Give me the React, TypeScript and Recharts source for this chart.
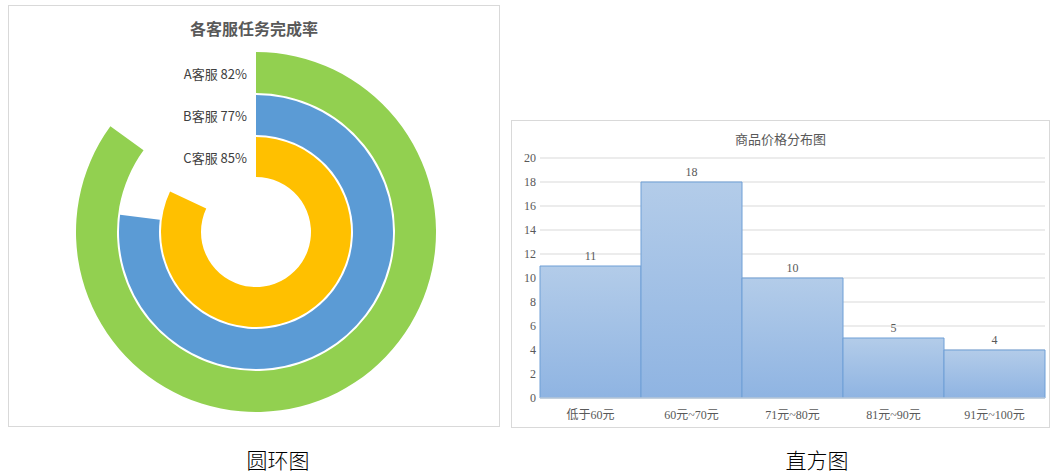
import { Bar, BarChart, CartesianGrid, Cell, LabelList, Pie, PieChart, XAxis, YAxis } from "recharts";

// doughnut: completion rate per service (rings drawn inner -> outer: A, B, C)
const services = ["A客服", "B客服", "C客服"];
const rates = [82, 77, 85];
const ringColors = ["#FFC000", "#5B9BD5", "#92D050"];
const ringInner = [55, 97, 139];
const ringOuter = [95, 137, 180];

// histogram: price distribution
const priceBins = ["低于60元", "60元~70元", "71元~80元", "81元~90元", "91元~100元"];
const binCounts = [11, 18, 10, 5, 4];
const yTicks = [0, 2, 4, 6, 8, 10, 12, 14, 16, 18, 20];

const CX = 248;
const CY = 227;
const grey = "#595959";
const cjk = '"Noto Sans CJK SC", sans-serif';
const serif = '"Liberation Serif", "Noto Sans CJK SC", serif';

function Donut() {
  return (
    <div style={{ position: "absolute", left: 8, top: 5, width: 492, height: 422, border: "1px solid #d9d9d9", boxSizing: "border-box" }}>
      <div style={{ position: "absolute", left: 0, right: 0, top: 10, textAlign: "center", fontFamily: cjk, fontWeight: 700, fontSize: 16, color: grey }}>
        各客服任务完成率
      </div>
      <div style={{ position: "absolute", left: -1, top: -1 }}>
        <PieChart width={492} height={422} margin={{ top: 0, right: 0, bottom: 0, left: 0 }}>
          {services.map((s, i) => (
            <Pie
              key={s}
              data={[{ name: s, value: rates[i] }, { name: "rest", value: 100 - rates[i] }]}
              dataKey="value"
              cx={CX}
              cy={CY}
              innerRadius={ringInner[i]}
              outerRadius={ringOuter[i]}
              startAngle={90}
              endAngle={-270}
              stroke="none"
              isAnimationActive={false}
            >
              <Cell fill={ringColors[i]} />
              <Cell fill="transparent" />
            </Pie>
          ))}
        </PieChart>
      </div>
      {services.map((s, i) => {
        const ring = services.length - 1 - i;
        const y = CY - (ringInner[ring] + ringOuter[ring]) / 2;
        return (
          <div
            key={s}
            style={{ position: "absolute", right: 492 - CX + 8, top: y - 10, height: 20, lineHeight: "20px", fontFamily: cjk, fontSize: 13, color: "#404040", whiteSpace: "nowrap" }}
          >
            {s} {rates[i]}%
          </div>
        );
      })}
    </div>
  );
}

function Histogram() {
  const data = priceBins.map((b, i) => ({ bin: b, count: binCounts[i] }));
  return (
    <div style={{ position: "absolute", left: 511, top: 120, width: 539, height: 308, border: "1px solid #d9d9d9", boxSizing: "border-box" }}>
      <div style={{ position: "absolute", left: 0, right: 0, top: 8, textAlign: "center", fontFamily: serif, fontSize: 13, color: grey }}>
        商品价格分布图
      </div>
      <div style={{ position: "absolute", left: -1, top: -1 }}>
        <BarChart width={539} height={308} data={data} barCategoryGap={0} margin={{ top: 38, right: 5, bottom: 0, left: 0 }}>
          <defs>
            <linearGradient id="barFill" x1="0" y1="0" x2="0" y2="1">
              <stop offset="0%" stopColor="#b3cce9" />
              <stop offset="100%" stopColor="#8fb4e2" />
            </linearGradient>
          </defs>
          <CartesianGrid vertical={false} stroke="#d9d9d9" />
          <XAxis
            dataKey="bin"
            height={30}
            tickLine={false}
            axisLine={{ stroke: "#d9d9d9" }}
            tick={{ fontSize: 12, fill: grey, fontFamily: serif }}
            tickMargin={6}
            interval={0}
          />
          <YAxis
            width={29}
            domain={[0, 20]}
            ticks={yTicks}
            tickLine={false}
            axisLine={false}
            tickSize={0}
            tickMargin={4}
            tick={{ fontSize: 12, fill: grey, fontFamily: serif }}
          />
          <Bar dataKey="count" fill="url(#barFill)" stroke="#6e9fd6" strokeWidth={1} isAnimationActive={false}>
            <LabelList dataKey="count" position="top" offset={6} style={{ fontSize: 12, fill: grey, fontFamily: serif }} />
          </Bar>
        </BarChart>
      </div>
    </div>
  );
}

export default function App() {
  return (
    <div style={{ position: "absolute", left: 0, top: 0, width: 1056, height: 475, background: "#fff", overflow: "hidden" }}>
      <Donut />
      <Histogram />
      <div style={{ position: "absolute", left: 218, top: 444, width: 120, textAlign: "center", fontFamily: cjk, fontWeight: 300, fontSize: 21, color: "#000" }}>圆环图</div>
      <div style={{ position: "absolute", left: 757, top: 444, width: 120, textAlign: "center", fontFamily: cjk, fontWeight: 300, fontSize: 21, color: "#000" }}>直方图</div>
    </div>
  );
}
